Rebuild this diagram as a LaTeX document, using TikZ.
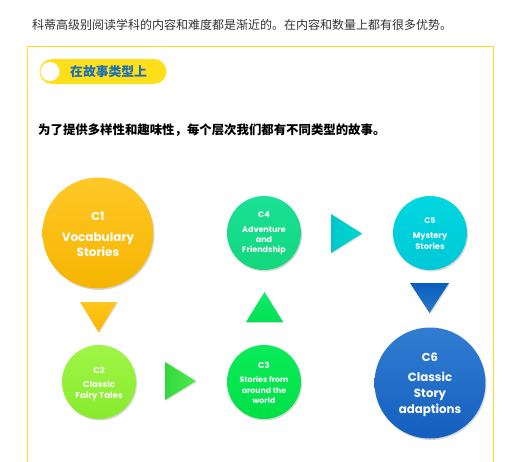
\documentclass[tikz,border=0pt]{standalone}
\usepackage{fontspec}
\setmainfont{Poppins}
\newfontfamily\cjk{Noto Sans CJK SC}
\usetikzlibrary{shadows}
\definecolor{txtgray}{HTML}{333333}
\definecolor{boxyellow}{HTML}{FFDF1A}
\definecolor{pillblue}{HTML}{1B6FB3}
\tikzset{
  x=1pt, y=-1pt,
  circ/.style={circle, inner sep=0pt, drop shadow={shadow xshift=1pt, shadow yshift=-1.5pt, opacity=0.3}},
  tri/.style={drop shadow={shadow xshift=1pt, shadow yshift=-1pt, opacity=0.25}},
  lbl/.style={text=white, font=\bfseries, align=center, inner sep=0pt},
}
\begin{document}
\begin{tikzpicture}
\useasboundingbox (0,0) rectangle (530,461);
\fill[white] (0,0) rectangle (530,461);
% header text
\node[anchor=west, inner sep=0pt, text=txtgray, font=\cjk\fontsize{12}{14}\selectfont] (head) at (32,25) {科蒂高级别阅读学科的内容和难度都是渐近的。在内容和数量上都有很多优势。};
% yellow frame
\draw[boxyellow, line width=1pt] (27,470) -- (27,46.5) -- (493,46.5) -- (493,470);
% pill
\fill[boxyellow, rounded corners=12.5pt] (39.5,59) rectangle (166.5,84);
\fill[white] (50,71.5) circle[radius=9.5];
\node[anchor=west, inner sep=0pt, text=pillblue, font=\cjk\bfseries\fontsize{12.8}{14}\selectfont] (pill) at (70,72) {在故事类型上};
% subtitle
\node[anchor=west, inner sep=0pt, text=black, font=\cjk\bfseries\fontsize{12.4}{14}\selectfont] (sub) at (38,130) {为了提供多样性和趣味性，每个层次我们都有不同类型的故事。};
% circles
\node[circ, minimum size=111pt, top color={rgb,255:red,255;green,200;blue,40}, bottom color={rgb,255:red,245;green,180;blue,0}] (c1) at (98,233) {};
\node[circ, minimum size=74pt, top color={rgb,255:red,160;green,245;blue,70}, bottom color={rgb,255:red,135;green,235;blue,45}] (c2) at (99,382) {};
\node[circ, minimum size=74pt, top color={rgb,255:red,10;green,235;blue,90}, bottom color={rgb,255:red,0;green,225;blue,70}] (c3) at (264,382) {};
\node[circ, minimum size=74pt, top color={rgb,255:red,25;green,225;blue,150}, bottom color={rgb,255:red,20;green,215;blue,125}] (c4) at (264,233) {};
\node[circ, minimum size=74pt, top color={rgb,255:red,0;green,215;blue,225}, bottom color={rgb,255:red,0;green,200;blue,215}] (c5) at (430,233) {};
\node[circ, minimum size=111pt, top color={rgb,255:red,50;green,125;blue,210}, bottom color={rgb,255:red,20;green,95;blue,190}] (c6) at (430,383) {};
% labels
\node[lbl, font=\bfseries\fontsize{11.5}{12}\selectfont] at (98,216) {C1};
\node[lbl, font=\bfseries\fontsize{12}{15}\selectfont] at (98,245) {Vocabulary\\Stories};
\node[lbl, font=\bfseries\fontsize{8.5}{9}\selectfont] at (99,370) {C2};
\node[lbl, font=\bfseries\fontsize{8.5}{11.5}\selectfont] at (99,390.5) {Classic\\Fairy Tales};
\node[lbl, font=\bfseries\fontsize{8.5}{9}\selectfont] at (264,365) {C3};
\node[lbl, font=\bfseries\fontsize{7.8}{10.5}\selectfont] at (264,390) {Stories from\\around the\\world};
\node[lbl, font=\bfseries\fontsize{8}{9}\selectfont] at (264,215) {C4};
\node[lbl, font=\bfseries\fontsize{8}{10}\selectfont] at (264,241) {Adventure\\and\\Friendship};
\node[lbl, font=\bfseries\fontsize{8}{9}\selectfont] at (430,221) {C5};
\node[lbl, font=\bfseries\fontsize{8.2}{11}\selectfont] at (430,241.5) {Mystery\\Stories};
\node[lbl, font=\bfseries\fontsize{11.5}{12}\selectfont] at (430,357) {C6};
\node[lbl, font=\bfseries\fontsize{11.8}{16}\selectfont] at (430,394) {Classic\\Story\\adaptions};
% triangles
\shade[tri, top color={rgb,255:red,255;green,200;blue,30}, bottom color={rgb,255:red,250;green,180;blue,0}] (80,302) -- (117,302) -- (98.5,332) -- cycle;
\shade[tri, left color={rgb,255:red,50;green,215;blue,60}, right color={rgb,255:red,80;green,235;blue,80}] (165,362) -- (196,381) -- (165,400) -- cycle;
\shade[tri, top color={rgb,255:red,20;green,235;blue,110}, bottom color={rgb,255:red,0;green,225;blue,80}] (246,322) -- (264.5,292) -- (283,322) -- cycle;
\shade[tri, left color={rgb,255:red,0;green,200;blue,200}, right color={rgb,255:red,0;green,215;blue,210}] (331,214) -- (362,233.5) -- (331,253) -- cycle;
\shade[tri, top color={rgb,255:red,10;green,95;blue,190}, bottom color={rgb,255:red,40;green,120;blue,200}] (410,283) -- (449,283) -- (429.5,313) -- cycle;
\end{tikzpicture}
\end{document}
